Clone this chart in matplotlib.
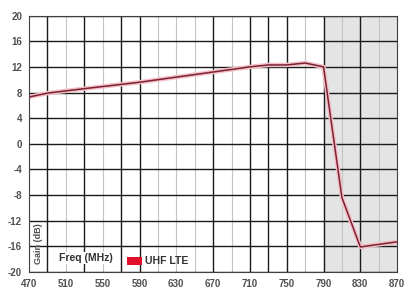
import matplotlib
matplotlib.use("Agg")
import matplotlib.pyplot as plt
from matplotlib.patches import Patch

# gain curve
freq = [470, 490, 530, 590, 710, 730, 750, 770, 790, 810, 830, 870]
gain = [7.3, 7.9, 8.6, 9.6, 12.0, 12.3, 12.3, 12.6, 12.0, -8.4, -16.1, -15.3]

xticks = [470, 510, 550, 590, 630, 670, 710, 750, 790, 830, 870]
yticks = [20, 16, 12, 8, 4, 0, -4, -8, -12, -16, -20]
dark_vlines = [490, 530, 570, 590, 670, 710, 730, 750, 790, 830]
light_vlines = [510, 550, 610, 630, 650, 690, 770, 810, 850]
band = (790, 870)

plt.rcParams['font.family'] = ['Liberation Sans', 'DejaVu Sans']
plt.rcParams['axes.unicode_minus'] = False

fig = plt.figure(figsize=(4.04, 2.89), dpi=100)
ax = fig.add_axes([0.072, 0.059, 0.911, 0.887])

ax.axvspan(band[0], band[1], color='#e4e4e4', zorder=0)

for v in light_vlines:
	ax.axvline(v, color='#c4c4c4', lw=0.8, zorder=1)
for v in dark_vlines:
	ax.axvline(v, color='#1a1a1a', lw=1.0, zorder=1)
for h in yticks:
	ax.axhline(h, color='#1a1a1a', lw=1.0, zorder=1)

# pink halo under the line
ax.plot(freq, gain, color='#f4c0c8', lw=3.2, zorder=2)
ax.plot(freq, gain, color='#7a2230', lw=1.1, zorder=3)

ax.set_xlim(470, 870)
ax.set_ylim(-20, 20)
ax.set_xticks(xticks)
ax.set_yticks(yticks)
ax.tick_params(length=0, labelsize=7, colors='#505050', pad=5)
for lab in ax.get_xticklabels() + ax.get_yticklabels():
	lab.set_fontweight('bold')
for s in ax.spines.values():
	s.set_color('#404040')
	s.set_linewidth(0.8)

ax.text(0.012, 0.03, 'Gain (dB)', transform=ax.transAxes, rotation=90,
	fontsize=6.5, fontweight='bold', color='#505050', va='bottom', ha='left')
ax.text(0.08, 0.035, 'Freq (MHz)', transform=ax.transAxes,
	fontsize=7.5, fontweight='bold', color='#303030', va='bottom', ha='left',
	bbox=dict(facecolor='white', edgecolor='none', pad=1))
ax.legend(handles=[Patch(facecolor='#e0102a', edgecolor='none', label='UHF LTE')],
	loc='lower left', bbox_to_anchor=(0.24, -0.015), frameon=False,
	prop={'size': 7.5, 'weight': 'bold'}, labelcolor='#303030',
	handlelength=1.5, handleheight=0.9, handletextpad=0.2)

fig.savefig('out.png', dpi=100)
